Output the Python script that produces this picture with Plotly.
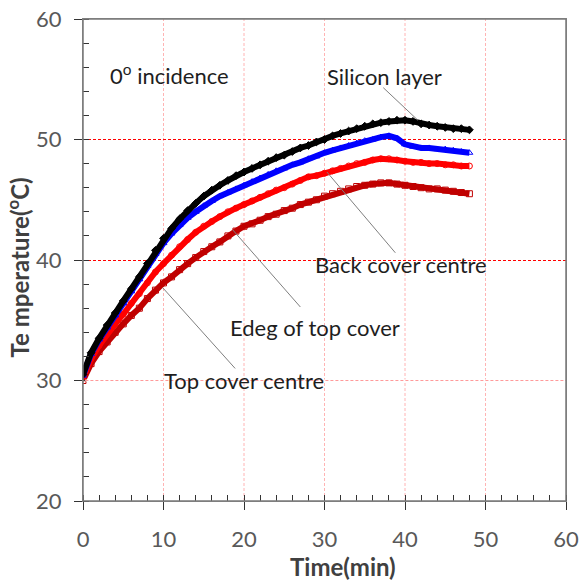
import plotly.graph_objects as go

time_min = list(range(0, 49))

silicon_layer = [30.5, 32.3, 33.5, 34.6, 35.6, 36.6, 37.6, 38.6, 39.7, 40.8,
                 41.8, 42.6, 43.4, 44.1, 44.7, 45.3, 45.8, 46.2, 46.6, 47.0,
                 47.3, 47.6, 47.9, 48.2, 48.5, 48.7, 49.0, 49.3, 49.5, 49.8,
                 50.0, 50.3, 50.5, 50.7, 50.9, 51.1, 51.3, 51.4, 51.5, 51.6,
                 51.6, 51.5, 51.3, 51.2, 51.1, 51.0, 50.9, 50.9, 50.8]

blue_series = [30.4, 32.2, 33.4, 34.4, 35.4, 36.4, 37.4, 38.4, 39.5, 40.5,
               41.4, 42.2, 42.9, 43.5, 44.0, 44.5, 44.9, 45.3, 45.6, 45.9,
               46.2, 46.5, 46.8, 47.1, 47.4, 47.6, 47.9, 48.1, 48.4, 48.6,
               48.9, 49.1, 49.3, 49.5, 49.7, 49.9, 50.0, 50.2, 50.3, 50.1,
               49.6, 49.4, 49.3, 49.3, 49.2, 49.2, 49.1, 49.0, 48.9]

red_series = [30.2, 31.8, 32.9, 33.9, 34.7, 35.5, 36.4, 37.2, 38.1, 39.0,
              39.7, 40.4, 41.1, 41.7, 42.3, 42.8, 43.2, 43.6, 44.0, 44.3,
              44.6, 44.9, 45.2, 45.5, 45.8, 46.0, 46.3, 46.6, 46.9, 47.0,
              47.2, 47.4, 47.6, 47.8, 48.0, 48.1, 48.3, 48.4, 48.4, 48.3,
              48.2, 48.1, 48.1, 48.0, 48.0, 47.9, 47.9, 47.8, 47.8]

darkred_series = [30.0, 31.4, 32.4, 33.2, 34.0, 34.7, 35.4, 36.0, 36.8, 37.5,
                  38.1, 38.6, 39.2, 39.7, 40.2, 40.7, 41.1, 41.5, 42.0, 42.4,
                  42.8, 43.0, 43.3, 43.6, 43.8, 44.1, 44.3, 44.6, 44.8, 45.0,
                  45.3, 45.5, 45.7, 45.9, 46.1, 46.2, 46.3, 46.4, 46.4, 46.3,
                  46.2, 46.1, 46.0, 45.9, 45.9, 45.8, 45.7, 45.6, 45.5]

x_ticks = [0, 10, 20, 30, 40, 50, 60]
y_ticks = [20, 30, 40, 50, 60]

FONT = "Lato"

fig = go.Figure()

def add_series(y, color, symbol, name, lw):
    fig.add_trace(go.Scatter(
        x=time_min, y=y, mode="lines+markers", name=name,
        line=dict(color=color, width=lw),
        marker=dict(color=color, symbol=symbol, size=6,
                    line=dict(color=color, width=1)),
        showlegend=False))

add_series(darkred_series, "#C00000", "square-open", "Top cover centre", 6)
add_series(red_series, "#FF0000", "circle-open", "Edge of top cover", 6)
add_series(blue_series, "#0000FF", "triangle-up-open", "Back cover centre", 6)
add_series(silicon_layer, "#000000", "diamond", "Silicon layer", 6)

# the 30 line is lighter than the red grid
fig.add_shape(type="line", xref="x", yref="y", x0=0.3, x1=60, y0=30, y1=30,
              line=dict(color="white", width=2), layer="above")
fig.add_shape(type="line", xref="x", yref="y", x0=0.3, x1=60, y0=30, y1=30,
              line=dict(color="#ff9a9a", width=1, dash="3px,2px"), layer="above")
for xv in [10, 20, 30, 40, 50]:
    fig.add_shape(type="line", xref="x", yref="y", x0=xv, x1=xv, y0=20, y1=60,
                  line=dict(color="#ffb4b4", width=1, dash="3px,2px"), layer="below")

# plot border
fig.add_shape(type="rect", xref="paper", yref="paper", x0=0, x1=1, y0=0, y1=1,
              line=dict(color="#7a7a7a", width=1.5))

# leader lines
leaders = [
    (37.3, 54.3, 41.6, 51.6),
    (38.8, 40.6, 30.3, 47.3),
    (27.0, 36.1, 18.6, 42.5),
    (18.9, 31.0, 9.9, 37.7),
]
for x0, y0, x1, y1 in leaders:
    fig.add_shape(type="line", xref="x", yref="y", x0=x0, y0=y0, x1=x1, y1=y1,
                  line=dict(color="#7f7f7f", width=1))

labels = [
    (10.8, 55.4, "0<sup>o</sup> incidence"),
    (37.5, 55.2, "Silicon layer"),
    (39.5, 39.6, "Back cover centre"),
    (28.8, 34.4, "Edeg of top cover"),
    (20.0, 30.0, "Top cover centre"),
]
for x, y, t in labels:
    fig.add_annotation(x=x, y=y, xref="x", yref="y", text=t, showarrow=False,
                       font=dict(family=FONT, size=22, color="#1e1e1e"))

# axis titles as annotations (placed like the reference)
fig.add_annotation(x=0.538, y=-0.135, xref="paper", yref="paper",
                   text="<b>Time(min)</b>", showarrow=False,
                   xanchor="center", yanchor="middle",
                   font=dict(family=FONT, size=24, color="#404040"))
fig.add_annotation(x=-0.135, y=0.484, xref="paper", yref="paper",
                   text="<b>Te mperature(<sup>o</sup>C)</b>", showarrow=False,
                   textangle=-90, xanchor="center", yanchor="middle",
                   font=dict(family=FONT, size=24, color="#404040"))

axis_common = dict(
    zeroline=False, showline=True, linecolor="#8c8c8c",
    linewidth=1.2, mirror=True, ticks="outside", ticklen=8, tickcolor="#333333",
    tickfont=dict(family=FONT, size=22, color="#595959"), automargin=False,
)

fig.update_xaxes(range=[0, 60], tickvals=x_ticks, showgrid=False,
                 ticklabelstandoff=10,
                 minor=dict(dtick=2, ticks="inside", ticklen=6, tickcolor="#333333"),
                 **axis_common)
fig.update_yaxes(range=[20, 60], tickvals=y_ticks, showgrid=True,
                 gridcolor="#ff0000", gridwidth=1, griddash="3px,2px",
                 ticklabelstandoff=8,
                 minor=dict(dtick=2, ticks="inside", ticklen=6, tickcolor="#333333"),
                 **axis_common)

fig.update_layout(width=580, height=580,
                  margin=dict(l=83, r=14, t=19, b=79),
                  plot_bgcolor="white", paper_bgcolor="white")

fig.write_html("out.html", config={"displayModeBar": False},
               post_script="document.body.style.margin='0';"
                           "document.body.style.overflow='hidden';")
